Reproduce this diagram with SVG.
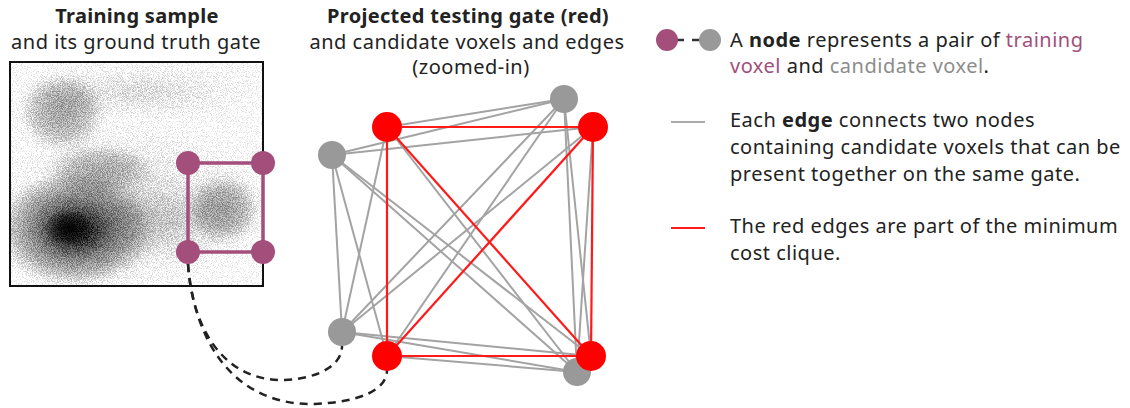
<svg xmlns="http://www.w3.org/2000/svg" width="1130" height="408" viewBox="0 0 1130 408">
<style>
  text { font-family: "Noto Sans", "Open Sans", sans-serif; fill: #222; font-size: 20px; letter-spacing: 0.5px; }
  .title { font-weight: bold; text-anchor: middle; letter-spacing: 0.3px; }
  .sub { text-anchor: middle; }
  .b { font-weight: bold; }
  .pur { fill: #A34E7B; }
  .gry { fill: #8c8c8c; }
  .ge { stroke: #a3a3a3; stroke-width: 2; fill: none; }
  .re { stroke: #ff1a1a; stroke-width: 2.2; fill: none; }
  .rn { fill: #ff0000; }
  .gn { fill: #999999; }
  .pn { fill: #A34E7B; }
  .dash { stroke: #222; stroke-width: 2.5; fill: none; stroke-dasharray: 8 6; }
</style>
<defs>
  <clipPath id="boxclip"><rect x="10" y="62" width="253" height="224"/></clipPath>
  <radialGradient id="dark">
    <stop offset="0" stop-color="#000" stop-opacity="1"/>
    <stop offset="0.2" stop-color="#000" stop-opacity="0.88"/>
    <stop offset="0.45" stop-color="#000" stop-opacity="0.55"/>
    <stop offset="0.8" stop-color="#000" stop-opacity="0.25"/>
    <stop offset="1" stop-color="#000" stop-opacity="0"/>
  </radialGradient>
  <radialGradient id="mid">
    <stop offset="0" stop-color="#000" stop-opacity="0.4"/>
    <stop offset="0.6" stop-color="#000" stop-opacity="0.28"/>
    <stop offset="1" stop-color="#000" stop-opacity="0"/>
  </radialGradient>
  <radialGradient id="light">
    <stop offset="0" stop-color="#000" stop-opacity="0.18"/>
    <stop offset="1" stop-color="#000" stop-opacity="0"/>
  </radialGradient>
  <filter id="speckle" x="10" y="62" width="253" height="224" filterUnits="userSpaceOnUse" color-interpolation-filters="sRGB">
    <feGaussianBlur in="SourceGraphic" stdDeviation="4" result="blob"/>
    <feTurbulence type="fractalNoise" baseFrequency="1.2" numOctaves="1" seed="7" result="noise"/>
    <feColorMatrix in="noise" type="matrix" values="0 0 0 0 0  0 0 0 0 0  0 0 0 0 0  0 0 0 3 -1" result="na"/>
    <feComposite in="blob" in2="na" operator="arithmetic" k1="0" k2="1" k3="0.3" k4="-0.19"/>
  </filter>
</defs>

<!-- Titles -->
<g id="title-left">
  <text class="title" x="137" y="23">Training sample</text>
  <text class="sub" x="136" y="49">and its ground truth gate</text>
</g>
<g id="title-mid">
  <text class="title" x="468" y="23">Projected testing gate (red)</text>
  <text class="sub" x="467" y="49">and candidate voxels and edges</text>
  <text class="sub" x="471" y="74">(zoomed-in)</text>
</g>

<!-- Density plot -->
<g id="density">
  <rect x="10" y="62" width="253" height="224" fill="#fff"/>
  <g clip-path="url(#boxclip)">
    <g filter="url(#speckle)">
      <rect x="10" y="62" width="253" height="224" fill="#000" fill-opacity="0.01"/>
      <ellipse cx="140" cy="92" rx="120" ry="28" fill="url(#light)"/>
      <ellipse cx="130" cy="205" rx="135" ry="85" fill="url(#light)"/>
      <ellipse cx="62" cy="112" rx="44" ry="40" fill="url(#mid)"/>
      <ellipse cx="100" cy="170" rx="55" ry="26" fill="url(#mid)" opacity="0.8"/>
      <ellipse cx="224" cy="209" rx="38" ry="36" fill="url(#mid)"/>
      <ellipse cx="165" cy="222" rx="70" ry="42" fill="url(#light)"/>
      <ellipse cx="75" cy="230" rx="80" ry="58" fill="url(#dark)"/>
    </g>
    <ellipse cx="68" cy="228" rx="24" ry="18" fill="url(#dark)" opacity="0.8"/>
  </g>
  <rect x="10" y="62" width="253" height="224" fill="none" stroke="#111" stroke-width="2"/>
</g>

<!-- Connectors -->
<g id="connectors">
  <path d="M188,163 H263 M188,252 H263 M188,163 V252 M263,163 V252" stroke="#A34E7B" stroke-width="3.5" fill="none"/>
  <path class="dash" d="M188,264 C192,330 225,382 285,380 C320,378 342,365 342,346"/>
  <path class="dash" d="M188,264 C195,350 240,406 315,404 C360,402 387,390 387,370"/>
  <g class="ge">
    <line x1="564" y1="99" x2="332" y2="155"/>
    <line x1="564" y1="99" x2="342" y2="332"/>
    <line x1="564" y1="99" x2="577" y2="372"/>
    <line x1="332" y1="155" x2="342" y2="332"/>
    <line x1="332" y1="155" x2="577" y2="372"/>
    <line x1="342" y1="332" x2="577" y2="372"/>
    <line x1="564" y1="99" x2="387" y2="127"/>
    <line x1="564" y1="99" x2="387" y2="356"/>
    <line x1="564" y1="99" x2="591" y2="356"/>
    <line x1="332" y1="155" x2="593" y2="127"/>
    <line x1="332" y1="155" x2="387" y2="356"/>
    <line x1="332" y1="155" x2="591" y2="356"/>
    <line x1="342" y1="332" x2="387" y2="127"/>
    <line x1="342" y1="332" x2="593" y2="127"/>
    <line x1="342" y1="332" x2="591" y2="356"/>
    <line x1="577" y1="372" x2="387" y2="127"/>
    <line x1="577" y1="372" x2="593" y2="127"/>
    <line x1="577" y1="372" x2="387" y2="356"/>
  </g>
  <g class="re">
    <line x1="387" y1="127" x2="593" y2="127"/>
    <line x1="387" y1="356" x2="591" y2="356"/>
    <line x1="387" y1="127" x2="387" y2="356"/>
    <line x1="593" y1="127" x2="591" y2="356"/>
    <line x1="387" y1="127" x2="591" y2="356"/>
    <line x1="593" y1="127" x2="387" y2="356"/>
  </g>
</g>

<g id="train-tl"><circle class="pn" cx="188" cy="163" r="12"/></g>
<g id="train-tr"><circle class="pn" cx="263" cy="163" r="12"/></g>
<g id="train-bl"><circle class="pn" cx="188" cy="252" r="12"/></g>
<g id="train-br"><circle class="pn" cx="263" cy="252" r="12"/></g>

<g id="g-top"><circle class="gn" cx="564" cy="99" r="14"/></g>
<g id="g-left"><circle class="gn" cx="332" cy="155" r="14"/></g>
<g id="g-botleft"><circle class="gn" cx="342" cy="332" r="14"/></g>
<g id="g-botright"><circle class="gn" cx="577" cy="372" r="14"/></g>
<g id="r-tl"><circle class="rn" cx="387" cy="127" r="15"/></g>
<g id="r-tr"><circle class="rn" cx="593" cy="127" r="15"/></g>
<g id="r-bl"><circle class="rn" cx="387" cy="356" r="15"/></g>
<g id="r-br"><circle class="rn" cx="591" cy="356" r="15"/></g>

<g id="legend-node">
  <line x1="676" y1="40" x2="702" y2="40" stroke="#333" stroke-width="2.5" stroke-dasharray="8 8"/>
  <circle class="pn" cx="667" cy="40" r="11"/>
  <circle class="gn" cx="710" cy="40" r="11"/>
  <text x="730" y="47">A <tspan class="b">node</tspan> represents a pair of <tspan class="pur">training</tspan></text>
  <text x="730" y="73"><tspan class="pur">voxel</tspan> and <tspan class="gry">candidate voxel</tspan>.</text>
</g>
<g id="legend-edge">
  <line x1="671" y1="122" x2="705" y2="122" stroke="#aaa" stroke-width="2"/>
  <text x="730" y="127">Each <tspan class="b">edge</tspan> connects two nodes</text>
  <text x="730" y="154">containing candidate voxels that can be</text>
  <text x="730" y="181">present together on the same gate.</text>
</g>
<g id="legend-red">
  <line x1="671" y1="228" x2="705" y2="228" stroke="#ff1a1a" stroke-width="2"/>
  <text x="730" y="233">The red edges are part of the minimum</text>
  <text x="730" y="260">cost clique.</text>
</g>
</svg>
